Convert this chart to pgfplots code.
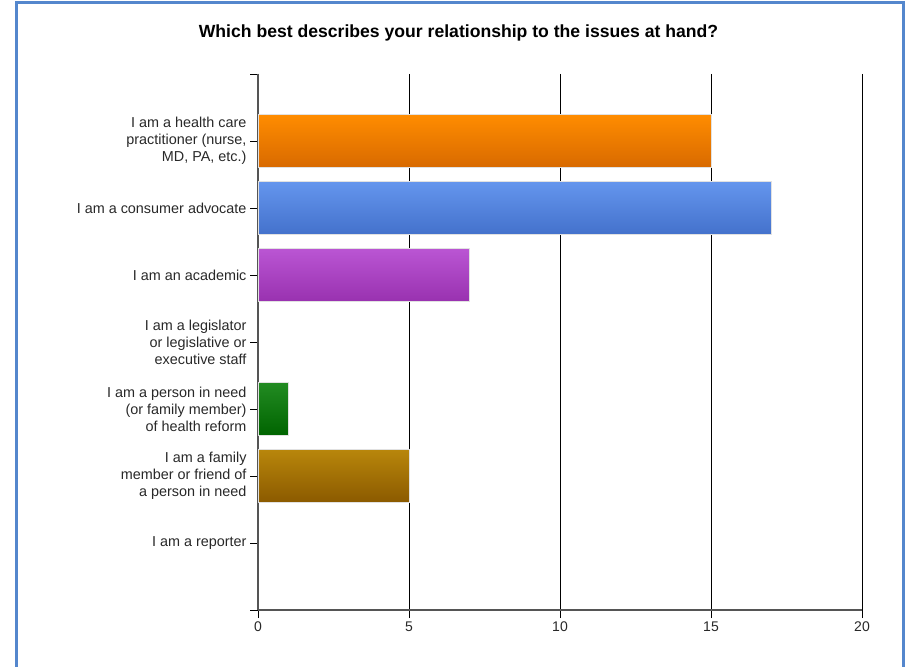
\documentclass[border=0pt]{standalone}
\usepackage{pgfplots}
\pgfplotsset{compat=1.18}
\usepackage{fontspec}
\setmainfont{Liberation Sans}
\definecolor{frameblue}{RGB}{84,135,205}
\definecolor{orTop}{RGB}{255,140,0}
\definecolor{orBot}{RGB}{216,106,0}
\definecolor{blTop}{RGB}{100,149,237}
\definecolor{blBot}{RGB}{68,114,204}
\definecolor{puTop}{RGB}{186,85,211}
\definecolor{puBot}{RGB}{153,50,176}
\definecolor{grTop}{RGB}{34,139,34}
\definecolor{grBot}{RGB}{0,100,0}
\definecolor{brTop}{RGB}{184,134,11}
\definecolor{brBot}{RGB}{139,90,0}
\definecolor{axgray}{RGB}{85,85,85}
\definecolor{txt}{RGB}{40,40,40}
\begin{document}
\begin{tikzpicture}[x=1pt,y=1pt]
\useasboundingbox (0,0) rectangle (909,666);
\draw[frameblue, line width=2.5pt] (16.5,-2) -- (16.5,663.5) -- (903.5,663.5) -- (903.5,-2);
\node[font=\fontsize{17.6}{20}\selectfont\bfseries, text=black] at (458.5,633) {Which best describes your relationship to the issues at hand?};
\begin{axis}[
  at={(258pt,56pt)}, anchor=south west,
  scale only axis, width=604pt, height=536pt,
  xmin=0, xmax=20, ymin=-1, ymax=7, y dir=reverse,
  axis x line*=bottom, axis y line*=left,
  x axis line style={-, axgray, line width=1.6pt},
  y axis line style={-, axgray, line width=1.6pt},
  xtick={0,5,10,15,20},
  ytick={-1,0,1,2,3,4,5,6,7},
  yticklabels={{},
    {I am a health care\\practitioner (nurse,\\MD, PA, etc.)},
    {I am a consumer advocate},
    {I am an academic},
    {I am a legislator\\or legislative or\\executive staff},
    {I am a person in need\\(or family member)\\of health reform},
    {I am a family\\member or friend of\\a person in need},
    {I am a reporter},
    {}},
  tick align=outside,
  major tick length=8pt,
  every tick/.style={black, line width=0.9pt},
  xmajorgrids, ymajorgrids=false,
  major grid style={black, line width=0.9pt},
  /pgf/number format/assume math mode=true,
  xticklabel style={font=\fontsize{14}{16}\selectfont, text=txt},
  yticklabel style={font=\fontsize{14.4}{17}\selectfont, text=txt, align=right},
  xbar, bar width=0.78,
]
\pgfplotsset{every axis plot/.append style={/pgf/bar shift=0pt, draw={rgb,255:red,225;green,225;blue,225}, line width=0.8pt}}
\addplot[top color=orTop, bottom color=orBot] coordinates {(15,0)};
\addplot[top color=blTop, bottom color=blBot] coordinates {(17,1)};
\addplot[top color=puTop, bottom color=puBot] coordinates {(7,2)};
\addplot[draw=none, fill=none] coordinates {(0,3)};
\addplot[top color=grTop, bottom color=grBot] coordinates {(1,4)};
\addplot[top color=brTop, bottom color=brBot] coordinates {(5,5)};
\addplot[draw=none, fill=none] coordinates {(0,6)};
\end{axis}
\end{tikzpicture}
\end{document}
